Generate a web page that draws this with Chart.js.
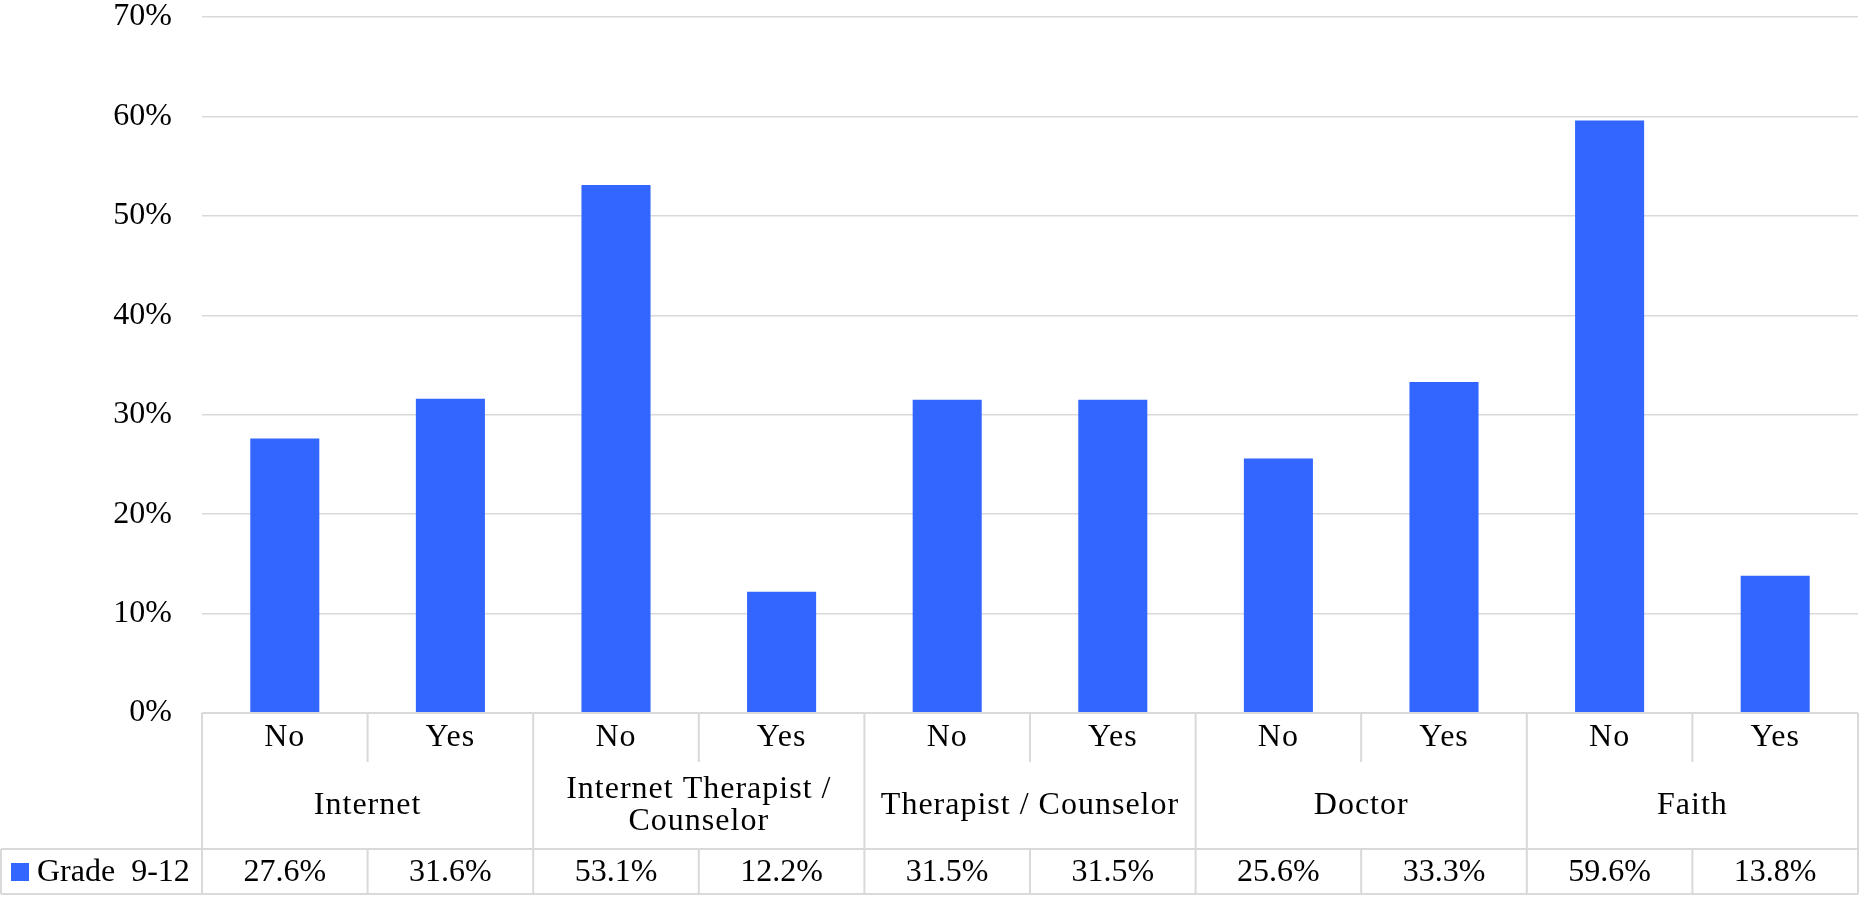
<!DOCTYPE html>
<html>
<head>
<meta charset="utf-8">
<script src="https://cdn.jsdelivr.net/npm/chart.js@4/dist/chart.umd.min.js"></script>
<style>
    body { margin: 0; background: #fff; }
    #wrap { width: 1860px; height: 898px; position: relative; }
</style>
</head>
<body>
<div id="wrap"><canvas id="chart"></canvas></div>
<script>
// data
const groups = ['Internet', 'Internet Therapist / Counselor', 'Therapist / Counselor', 'Doctor', 'Faith'];
const answers = ['No', 'Yes'];
const seriesName = 'Grade  9-12';
const values = [27.6, 31.6, 53.1, 12.2, 31.5, 31.5, 25.6, 33.3, 59.6, 13.8];
const yTicks = [0, 10, 20, 30, 40, 50, 60, 70];

const labels = [];
groups.forEach(function(g) {
    answers.forEach(function(a) { labels.push(a); });
});

const FONT = '"Liberation Serif", "Times New Roman", serif';
const SIZE = 32;
const LINE = '#d9d9d9';
const BAR = '#3366ff';

// draws the data table under the plot
const tablePlugin = {
    id: 'dataTable',
    afterDraw: function(chart) {
        const ctx = chart.ctx;
        const area = chart.chartArea;
        const x = chart.scales.x;
        const n = labels.length;
        const colW = (area.right - area.left) / n;
        const top = area.bottom;
        const r1 = top + 49;   // end of No/Yes row
        const r2 = top + 136;  // end of group row
        const r3 = top + 181;  // end of values row

        ctx.save();
        ctx.strokeStyle = LINE;
        ctx.lineWidth = 2;
        ctx.beginPath();
        // horizontal lines
        ctx.moveTo(area.left, top); ctx.lineTo(area.right, top);
        ctx.moveTo(1, r2); ctx.lineTo(area.right, r2);
        ctx.moveTo(1, r3); ctx.lineTo(area.right, r3);
        // outer verticals
        ctx.moveTo(1, r2); ctx.lineTo(1, r3);
        ctx.moveTo(area.left, top); ctx.lineTo(area.left, r3);
        ctx.moveTo(area.right, top); ctx.lineTo(area.right, r3);
        // inner verticals
        for (let i = 1; i < n; i++) {
            const px = area.left + i * colW;
            if (i % answers.length === 0) {
                ctx.moveTo(px, top); ctx.lineTo(px, r3);
            } else {
                ctx.moveTo(px, top); ctx.lineTo(px, r1);
                ctx.moveTo(px, r2); ctx.lineTo(px, r3);
            }
        }
        ctx.stroke();

        ctx.fillStyle = '#000';
        ctx.font = SIZE + 'px ' + FONT;
        ctx.textAlign = 'center';
        ctx.textBaseline = 'middle';

        // values
        labels.forEach(function(lab, i) {
            ctx.fillText(values[i].toFixed(1) + '%', x.getPixelForValue(i), r2 + 24);
        });

        // legend cell
        ctx.fillStyle = BAR;
        ctx.fillRect(11, r2 + 14, 18, 18);
        ctx.fillStyle = '#000';
        ctx.textAlign = 'left';
        ctx.fillText(seriesName, 37, r2 + 24);
        ctx.textAlign = 'center';

        ctx.letterSpacing = '1px';
        // No / Yes
        labels.forEach(function(lab, i) {
            ctx.fillText(lab, x.getPixelForValue(i), top + 25);
        });

        // group names, wrapped
        groups.forEach(function(g, gi) {
            const cx = area.left + (gi + 0.5) * colW * answers.length;
            const maxW = colW * answers.length - 24;
            const words = g.split(' ');
            const lines = [];
            let cur = '';
            words.forEach(function(w) {
                const test = cur ? cur + ' ' + w : w;
                if (ctx.measureText(test).width > maxW && cur) {
                    lines.push(cur);
                    cur = w;
                } else {
                    cur = test;
                }
            });
            lines.push(cur);
            const lh = 32;
            const cy = (r1 + r2) / 2;
            lines.forEach(function(l, li) {
                ctx.fillText(l, cx, cy + (li - (lines.length - 1) / 2) * lh);
            });
        });
        ctx.restore();
    }
};

const chart = new Chart(document.getElementById('chart'), {
    type: 'bar',
    data: {
        labels: labels,
        datasets: [{
            label: seriesName,
            data: values,
            backgroundColor: BAR,
            borderWidth: 0,
            barPercentage: 0.417,
            categoryPercentage: 1
        }]
    },
    options: {
        responsive: true,
        maintainAspectRatio: false,
        animation: false,
        layout: {
            padding: { top: 17, bottom: 185, right: 2, left: 0 }
        },
        plugins: {
            legend: { display: false },
            tooltip: { enabled: false }
        },
        scales: {
            x: {
                display: false
            },
            y: {
                min: 0,
                max: 70,
                afterFit: function(scale) {
                    scale.width = 202;
                    scale.paddingTop = 0;
                    scale.paddingBottom = 0;
                },
                afterBuildTicks: function(scale) {
                    scale.ticks = yTicks.map(function(v) { return { value: v }; });
                },
                border: { display: false },
                grid: {
                    color: LINE,
                    lineWidth: 1.5,
                    drawTicks: false
                },
                ticks: {
                    padding: 30,
                    color: '#000',
                    font: { family: FONT, size: SIZE },
                    callback: function(v) { return v + '%'; }
                }
            }
        }
    },
    plugins: [tablePlugin]
});
</script>
</body>
</html>
